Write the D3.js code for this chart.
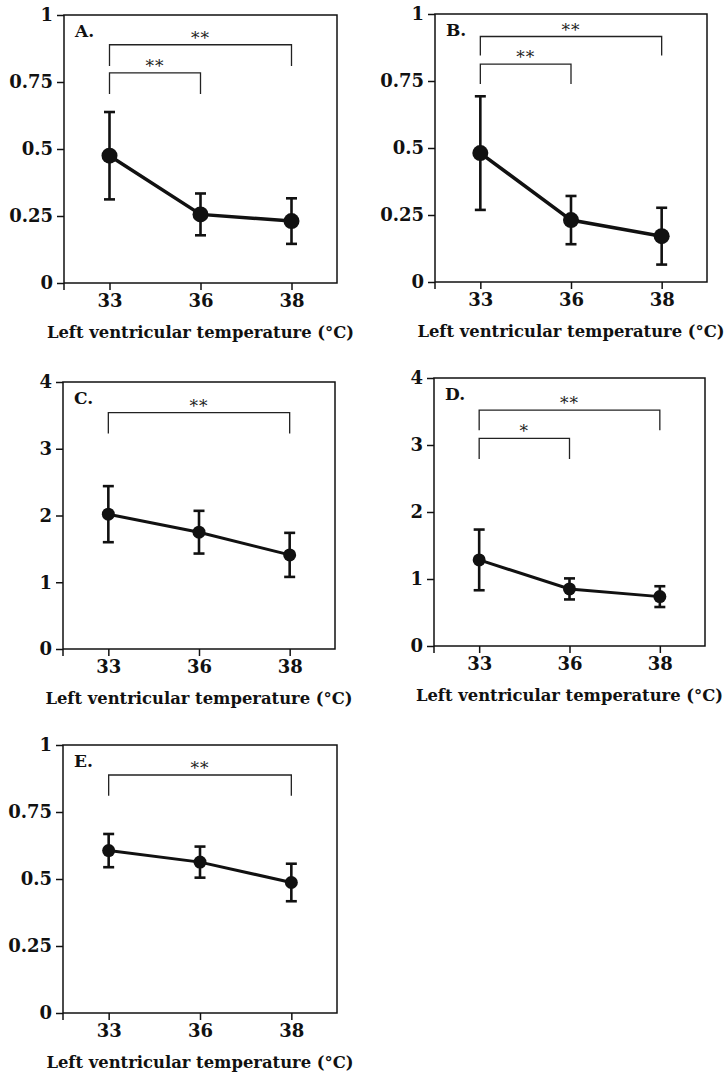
<!DOCTYPE html>
<html>
<head>
<meta charset="utf-8">
<script src="https://cdn.jsdelivr.net/npm/d3@7"></script>
<style>
  body { margin: 0; background: #fff; }
  svg { display: block; }
  .tick text { font-family: "DejaVu Serif", serif; font-weight: bold; font-size: 18px; fill: #111; }
  .tick line { stroke: #111; stroke-width: 1.5; }
  .title { font-family: "DejaVu Serif", serif; font-weight: bold; font-size: 16.4px; fill: #111; }
  .letter { font-family: "DejaVu Serif", serif; font-weight: bold; font-size: 17px; fill: #111; }
  .star { font-family: "DejaVu Serif", serif; font-size: 17px; fill: #222; letter-spacing: 1px; }
</style>
</head>
<body>
<script>
// temperatures on the x axis (categorical)
const temps = ["33", "36", "38"];

// y ticks
const yTicksSmall = [0, 0.25, 0.5, 0.75, 1];
const yLabelsSmall = ["0", "0.25", "0.5", "0.75", "1"];
const yTicksLarge = [0, 1, 2, 3, 4];
const yLabelsLarge = ["0", "1", "2", "3", "4"];

// mean and SD
const meanA = [0.475, 0.256, 0.231];
const sdA   = [0.163, 0.078, 0.085];
const meanB = [0.481, 0.231, 0.171];
const sdB   = [0.212, 0.090, 0.106];
const meanC = [2.02, 1.75, 1.41];
const sdC   = [0.42, 0.32, 0.33];
const meanD = [1.285, 0.852, 0.737];
const sdD   = [0.453, 0.157, 0.155];
const meanE = [0.606, 0.563, 0.487];
const sdE   = [0.062, 0.058, 0.070];

// significance brackets (levels in data units)
const bracketsA = [
  { from: "33", to: "38", top: 0.889, leg: 0.81, label: "**" },
  { from: "33", to: "36", top: 0.784, leg: 0.705, label: "**" }
];
const bracketsB = [
  { from: "33", to: "38", top: 0.916, leg: 0.845, label: "**" },
  { from: "33", to: "36", top: 0.813, leg: 0.739, label: "**" }
];
const bracketsC = [
  { from: "33", to: "38", top: 3.54, leg: 3.23, label: "**" }
];
const bracketsD = [
  { from: "33", to: "38", top: 3.52, leg: 3.22, label: "**" },
  { from: "33", to: "36", top: 3.10, leg: 2.79, label: "*" }
];
const bracketsE = [
  { from: "33", to: "38", top: 0.888, leg: 0.811, label: "**" }
];

const xTitle = "Left ventricular temperature (°C)";

const panels = [
  { id: "A.", mean: meanA, sd: sdA, ticks: yTicksSmall, labels: yLabelsSmall, max: 1, brackets: bracketsA },
  { id: "B.", mean: meanB, sd: sdB, ticks: yTicksSmall, labels: yLabelsSmall, max: 1, brackets: bracketsB },
  { id: "C.", mean: meanC, sd: sdC, ticks: yTicksLarge, labels: yLabelsLarge, max: 4, brackets: bracketsC },
  { id: "D.", mean: meanD, sd: sdD, ticks: yTicksLarge, labels: yLabelsLarge, max: 4, brackets: bracketsD },
  { id: "E.", mean: meanE, sd: sdE, ticks: yTicksSmall, labels: yLabelsSmall, max: 1, brackets: bracketsE }
];

// layout of each panel on the page
const layout = [
  { left: 64,  top: 15,  w: 273, h: 268, r: 8,   lw: 3.5 },
  { left: 435, top: 14,  w: 272, h: 268, r: 8,   lw: 3.5 },
  { left: 63,  top: 382, w: 272, h: 267, r: 6.5, lw: 3 },
  { left: 434, top: 378, w: 271, h: 268, r: 6.5, lw: 3 },
  { left: 63,  top: 745, w: 274, h: 268, r: 6.5, lw: 3 }
];

const svg = d3.select("body").append("svg")
  .attr("width", 724)
  .attr("height", 1072);

panels.forEach((p, i) => drawPanel(p, layout[i]));

function drawPanel(p, L) {
  const g = svg.append("g").attr("transform", `translate(${L.left},${L.top})`);

  const x = d3.scalePoint().domain(temps).range([0, L.w]).padding(0.5);
  const y = d3.scaleLinear().domain([0, p.max]).range([L.h, 0]);

  // frame
  g.append("rect")
    .attr("width", L.w)
    .attr("height", L.h)
    .attr("fill", "none")
    .attr("stroke", "#111")
    .attr("stroke-width", 1.5);

  // y axis
  const yAxis = g.append("g")
    .call(d3.axisLeft(y)
      .tickValues(p.ticks)
      .tickFormat((d, j) => p.labels[j])
      .tickSize(7)
      .tickSizeOuter(0)
      .tickPadding(4));
  yAxis.select(".domain").remove();

  // x axis
  const xAxis = g.append("g")
    .attr("transform", `translate(0,${L.h})`)
    .call(d3.axisBottom(x)
      .tickSize(7)
      .tickSizeOuter(0)
      .tickPadding(4));
  xAxis.select(".domain").remove();

  // little tick below the corner
  g.append("line")
    .attr("x1", 0).attr("x2", 0)
    .attr("y1", L.h).attr("y2", L.h + 7)
    .attr("stroke", "#111")
    .attr("stroke-width", 1.5);

  // x title
  g.append("text")
    .attr("class", "title")
    .attr("x", L.w / 2)
    .attr("y", L.h + 55)
    .attr("text-anchor", "middle")
    .text(xTitle);

  // panel letter
  g.append("text")
    .attr("class", "letter")
    .attr("x", 11)
    .attr("y", 22)
    .text(p.id);

  // brackets
  p.brackets.forEach(b => {
    const x0 = x(b.from), x1 = x(b.to);
    g.append("path")
      .attr("d", `M${x0},${y(b.leg)}V${y(b.top)}H${x1}V${y(b.leg)}`)
      .attr("fill", "none")
      .attr("stroke", "#222")
      .attr("stroke-width", 1.3);
    g.append("text")
      .attr("class", "star")
      .attr("x", (x0 + x1) / 2)
      .attr("y", y(b.top) - 1)
      .attr("text-anchor", "middle")
      .text(b.label);
  });

  const pts = temps.map((t, j) => ({ t: t, m: p.mean[j], s: p.sd[j] }));

  // error bars
  const eb = g.append("g").attr("stroke", "#111").attr("stroke-width", 2.6);
  eb.selectAll(".ev").data(pts).enter().append("line")
    .attr("x1", d => x(d.t)).attr("x2", d => x(d.t))
    .attr("y1", d => y(d.m - d.s)).attr("y2", d => y(d.m + d.s));
  eb.selectAll(".cap-hi").data(pts).enter().append("line")
    .attr("x1", d => x(d.t) - 5.5).attr("x2", d => x(d.t) + 5.5)
    .attr("y1", d => y(d.m + d.s)).attr("y2", d => y(d.m + d.s));
  eb.selectAll(".cap-lo").data(pts).enter().append("line")
    .attr("x1", d => x(d.t) - 5.5).attr("x2", d => x(d.t) + 5.5)
    .attr("y1", d => y(d.m - d.s)).attr("y2", d => y(d.m - d.s));

  // mean line
  g.append("path")
    .datum(pts)
    .attr("fill", "none")
    .attr("stroke", "#111")
    .attr("stroke-width", L.lw)
    .attr("d", d3.line().x(d => x(d.t)).y(d => y(d.m)));

  // points
  g.selectAll(".pt").data(pts).enter().append("circle")
    .attr("cx", d => x(d.t))
    .attr("cy", d => y(d.m))
    .attr("r", L.r)
    .attr("fill", "#111");
}
</script>
</body>
</html>
